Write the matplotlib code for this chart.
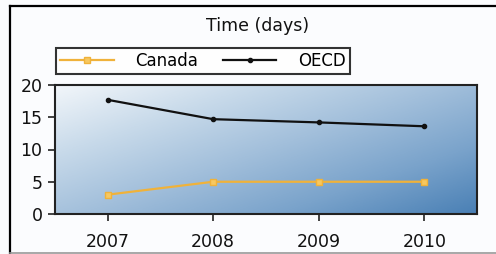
import numpy as np
import matplotlib
matplotlib.use("Agg")
import matplotlib.pyplot as plt
from matplotlib.lines import Line2D
from matplotlib.colors import LinearSegmentedColormap

years = ["2007", "2008", "2009", "2010"]
canada = [3, 5, 5, 5]
oecd = [17.7, 14.7, 14.2, 13.6]
yticks = [0, 5, 10, 15, 20]
title = "Time (days)"

W, H = 496, 254
fig = plt.figure(figsize=(W / 100, H / 100), dpi=100)
fig.patch.set_facecolor("#fbfcfe")

# border lines
fig.add_artist(Line2D([10 / W, 10 / W], [0, 1 - 6 / H], color="black", lw=1.6, transform=fig.transFigure))
fig.add_artist(Line2D([10 / W, 1], [1 - 6 / H, 1 - 6 / H], color="black", lw=1.6, transform=fig.transFigure))
fig.add_artist(Line2D([10 / W, 1], [1 / H, 1 / H], color="#999999", lw=1.2, transform=fig.transFigure))

x0, x1, y0, y1 = 55, 477, 85, 214
ax = fig.add_axes([x0 / W, 1 - y1 / H, (x1 - x0) / W, (y1 - y0) / H])

xs = np.arange(len(years))
ax.set_xlim(-0.5, len(years) - 0.5)
ax.set_ylim(0, 20)

# gradient background: light top-left, dark bottom-right
gx, gy = np.meshgrid(np.linspace(0, 1, 300), np.linspace(0, 1, 150))
t = 0.53 * gx + 0.47 * gy  # gy=0 at top row (origin upper)
t = (t - t.min()) / (t.max() - t.min())
cmap = LinearSegmentedColormap.from_list("g", ["#f2f6fa", "#c8daea", "#a2bfdb", "#7aa3cb", "#4a80b5"])
ax.imshow(t, cmap=cmap, extent=[-0.5, len(years) - 0.5, 0, 20], aspect="auto", origin="upper", zorder=0)

ax.plot(xs, canada, color="#f0b23a", lw=1.6, marker="s", ms=4.5, mfc="#f7c860", mec="#f0b23a", zorder=3, label="Canada")
ax.plot(xs, oecd, color="#111111", lw=1.6, marker="o", ms=3, mfc="#111111", zorder=3, label="OECD")

ax.set_xticks(xs)
ax.set_xticklabels(years)
ax.set_yticks(yticks)
for s in ax.spines.values():
    s.set_linewidth(1.5)
    s.set_color("#222222")
ax.tick_params(axis="both", direction="out", length=5, width=1.2, colors="#222222", labelsize=12.5, labelcolor="#111111")
ax.tick_params(axis="x", pad=9)
ax.tick_params(axis="y", pad=4)

fig.text(258 / W, 1 - 26 / H, title, ha="center", va="center", fontsize=12.5, color="#111111")

leg = fig.legend(loc="upper left", bbox_to_anchor=(56 / W, 1 - 48 / H), ncol=2, frameon=True,
                 fancybox=False, edgecolor="black", fontsize=12, handlelength=3.2,
                 columnspacing=1.5, handletextpad=1.3, borderpad=0.25, borderaxespad=0)
leg.get_frame().set_linewidth(1.5)
leg.get_frame().set_facecolor("white")

fig.savefig("out.png", dpi=100)
